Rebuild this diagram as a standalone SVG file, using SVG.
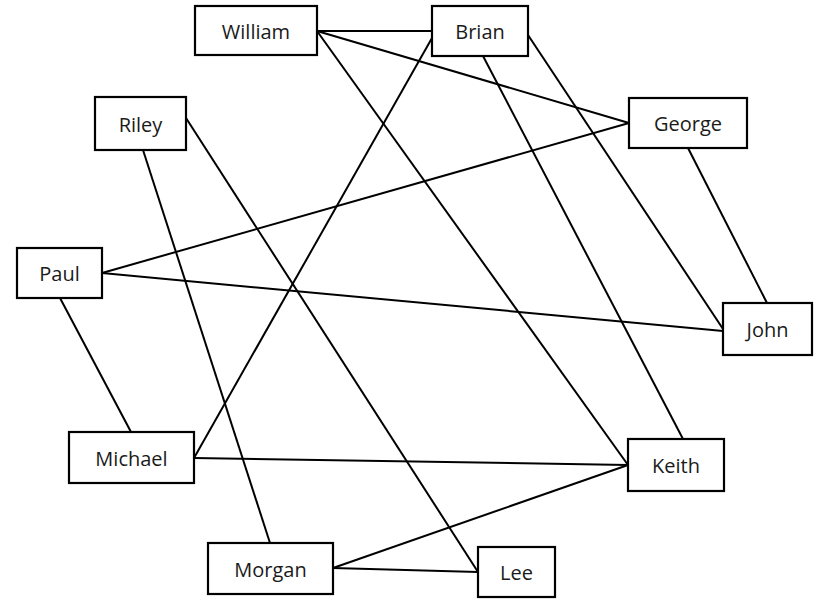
<svg xmlns="http://www.w3.org/2000/svg" width="815" height="599" viewBox="0 0 815 599">
<style>
rect{fill:#fff;stroke:#000;stroke-width:2.2}
text{font-family:"Open Sans","Liberation Sans",sans-serif;font-size:20px;fill:#1a1a1a;text-anchor:middle;dominant-baseline:central}
#edges line{stroke:#000;stroke-width:2}
</style>
<rect x="0" y="0" width="815" height="599" style="fill:#fff;stroke:none"/>
<g id="edges">
<line x1="317" y1="31" x2="432" y2="31"/>
<line x1="317" y1="31" x2="629" y2="123"/>
<line x1="317" y1="31" x2="628" y2="465"/>
<line x1="432" y1="38" x2="194" y2="458"/>
<line x1="483" y1="56" x2="683" y2="439"/>
<line x1="528" y1="35" x2="723" y2="329"/>
<line x1="688" y1="148" x2="767" y2="303"/>
<line x1="629" y1="123" x2="102" y2="273"/>
<line x1="102" y1="273" x2="723" y2="331"/>
<line x1="60" y1="298" x2="131" y2="432"/>
<line x1="186" y1="118" x2="478" y2="572"/>
<line x1="143" y1="150" x2="270" y2="543"/>
<line x1="194" y1="458" x2="628" y2="465"/>
<line x1="333" y1="568" x2="628" y2="465"/>
<line x1="333" y1="568" x2="478" y2="572"/>
</g>
<g id="william"><rect x="195" y="6" width="122" height="49"/><text x="256" y="31">William</text></g>
<g id="brian"><rect x="432" y="6" width="96" height="50"/><text x="480" y="31">Brian</text></g>
<g id="riley"><rect x="95" y="97" width="91" height="53"/><text x="140.5" y="124">Riley</text></g>
<g id="george"><rect x="629" y="98" width="118" height="50"/><text x="688" y="123">George</text></g>
<g id="paul"><rect x="17" y="248" width="85" height="50"/><text x="59.5" y="273">Paul</text></g>
<g id="john"><rect x="723" y="303" width="89" height="52"/><text x="767.5" y="329">John</text></g>
<g id="michael"><rect x="69" y="432" width="125" height="51"/><text x="131.5" y="458">Michael</text></g>
<g id="keith"><rect x="628" y="439" width="96" height="52"/><text x="676" y="465">Keith</text></g>
<g id="morgan"><rect x="208" y="543" width="125" height="51"/><text x="270.5" y="569">Morgan</text></g>
<g id="lee"><rect x="478" y="547" width="77" height="50"/><text x="516.5" y="572">Lee</text></g>
</svg>
